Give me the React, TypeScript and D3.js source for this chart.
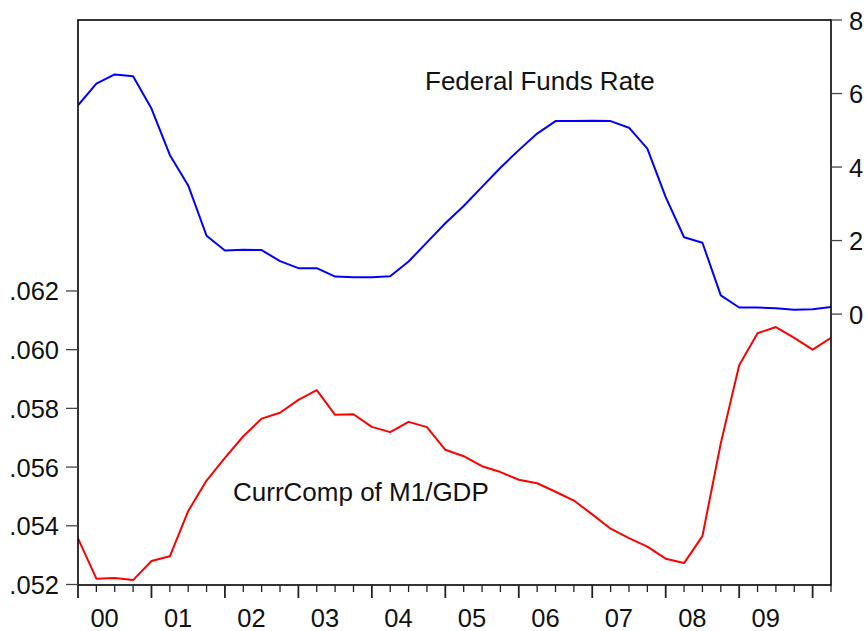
import { line, range, scaleLinear } from "d3";

// quarterly observations, 2000Q1 .. 2010Q2
const yearLabels = ["00", "01", "02", "03", "04", "05", "06", "07", "08", "09"];

const fedFundsRate = [
  5.68, 6.27, 6.52, 6.47, 5.59, 4.33, 3.5, 2.13, 1.73, 1.75, 1.74, 1.44, 1.25, 1.25, 1.02, 1.0,
  1.0, 1.03, 1.43, 1.95, 2.47, 2.94, 3.46, 3.98, 4.46, 4.91, 5.25, 5.25, 5.26, 5.25, 5.07, 4.5,
  3.18, 2.09, 1.94, 0.51, 0.18, 0.18, 0.16, 0.12, 0.13, 0.19,
];

const currCompM1Gdp = [
  0.05357, 0.0522, 0.05222, 0.05215, 0.0528, 0.05296, 0.0545, 0.05554, 0.05631, 0.05705, 0.05765,
  0.05785, 0.05829, 0.05862, 0.05778, 0.0578, 0.05737, 0.05719, 0.05754, 0.05736, 0.05659, 0.05637,
  0.05603, 0.05583, 0.05557, 0.05545, 0.05516, 0.05486, 0.05439, 0.0539, 0.05358, 0.05329, 0.05288,
  0.05273, 0.05365, 0.05681, 0.05947, 0.06056, 0.06077, 0.0604, 0.06, 0.0604,
];

const leftTicks = [0.052, 0.054, 0.056, 0.058, 0.06, 0.062];
const rightTicks = [0, 2, 4, 6, 8];

export default function App() {
  const width = 868;
  const height = 631;
  const left = 78;
  const right = 831;
  const top = 20;
  const bottom = 585;
  const font = "'Liberation Sans', Arial, Helvetica, sans-serif";

  const x = scaleLinear().domain([0, fedFundsRate.length - 1]).range([left, right]);
  const yLeft = scaleLinear().domain([0.052, 0.07123]).range([bottom - 0.5, top]);
  const yRight = scaleLinear().domain([-7.37, 8]).range([bottom, top]);

  const fedLine = line<number>()
    .x((_, i) => x(i))
    .y((d) => yRight(d))(fedFundsRate);

  const currLine = line<number>()
    .x((_, i) => x(i))
    .y((d) => yLeft(d))(currCompM1Gdp);

  return (
    <div style={{ position: "fixed", left: 0, top: 0 }}>
      <svg width={width} height={height} viewBox={`0 0 ${width} ${height}`} style={{ display: "block", background: "#fff" }}>
        <defs>
          <clipPath id="plot">
            <rect x={left} y={top} width={right - left} height={bottom - top} />
          </clipPath>
        </defs>

        <g clipPath="url(#plot)">
          {fedLine ? <path d={fedLine} fill="none" stroke="#0000ff" strokeWidth="2" strokeLinejoin="round" /> : null}
          {currLine ? <path d={currLine} fill="none" stroke="#ff0000" strokeWidth="2" strokeLinejoin="round" /> : null}
        </g>

        <rect x={left} y={top} width={right - left} height={bottom - top} fill="none" stroke="#000" strokeWidth="1.6" />

        {/* left axis */}
        {leftTicks.map((t) => (
          <g key={t}>
            <line x1={left - 12} x2={left} y1={yLeft(t)} y2={yLeft(t)} stroke="#444" strokeWidth="1.3" />
            <text x={59} y={yLeft(t) + 9.5} textAnchor="end" fontFamily={font} fontSize="25.5" fill="#111">
              {t.toFixed(3).replace(/^0/, "")}
            </text>
          </g>
        ))}

        {/* right axis */}
        {rightTicks.map((t) => (
          <g key={t}>
            <line x1={right} x2={right + 11} y1={yRight(t)} y2={yRight(t)} stroke="#444" strokeWidth="1.3" />
            <text x={849} y={yRight(t) + 9.5} fontFamily={font} fontSize="25.5" fill="#111">
              {t}
            </text>
          </g>
        ))}

        {/* bottom axis: quarter ticks, longer at each year */}
        {range(fedFundsRate.length).map((i) => (
          <line
            key={i}
            x1={x(i)}
            x2={x(i)}
            y1={bottom}
            y2={bottom + (i % 4 === 0 ? 13 : 7)}
            stroke="#222"
            strokeWidth={i % 4 === 0 ? 1.8 : 1.3}
          />
        ))}
        {yearLabels.map((label, k) => (
          <text key={label} x={x(k * 4 + 1.45)} y={627} textAnchor="middle" fontFamily={font} fontSize="25.5" fill="#111">
            {label}
          </text>
        ))}

        <text x={425} y={90} fontFamily={font} fontSize="26" fill="#111">
          Federal Funds Rate
        </text>
        <text x={233} y={501} fontFamily={font} fontSize="26" fill="#111">
          CurrComp of M1/GDP
        </text>
      </svg>
    </div>
  );
}
